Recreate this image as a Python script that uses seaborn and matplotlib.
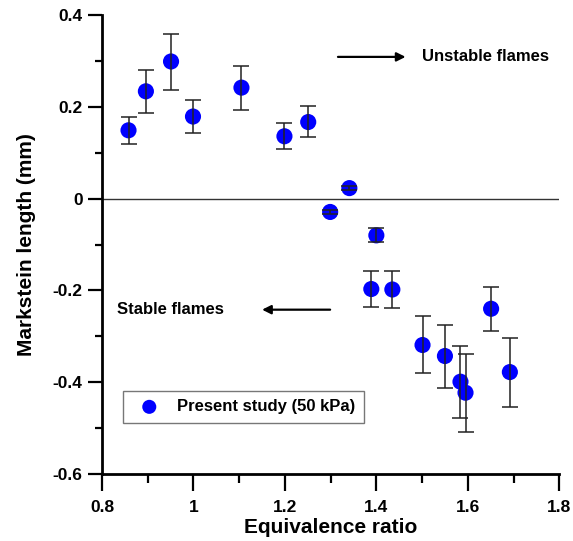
import matplotlib
matplotlib.use("Agg")
import matplotlib.pyplot as plt
import seaborn as sns
import numpy as np
import pandas as pd

# Equivalence ratio and Markstein length (mm)
phi = [0.858, 0.896, 0.951, 0.999, 1.105, 1.199, 1.251, 1.299, 1.341,
       1.400, 1.389, 1.435, 1.501, 1.550, 1.584, 1.595, 1.651, 1.692]
lb = [0.149, 0.234, 0.299, 0.179, 0.242, 0.136, 0.167, -0.029, 0.023,
      -0.080, -0.197, -0.198, -0.319, -0.343, -0.399, -0.423, -0.240, -0.378]
err_top = [0.178, 0.281, 0.358, 0.215, 0.289, 0.164, 0.201, -0.024, 0.028,
           -0.063, -0.158, -0.158, -0.255, -0.276, -0.321, -0.338, -0.192, -0.304]
err_bot = [0.119, 0.187, 0.237, 0.143, 0.193, 0.109, 0.135, -0.034, 0.018,
           -0.095, -0.236, -0.239, -0.381, -0.413, -0.479, -0.508, -0.288, -0.454]

df = pd.DataFrame({"phi": phi, "lb": lb})

sns.set_style("ticks")
plt.rcParams["font.family"] = ["Liberation Sans", "DejaVu Sans"]
plt.rcParams["font.weight"] = "bold"
plt.rcParams["text.color"] = "black"
plt.rcParams["axes.labelcolor"] = "black"
plt.rcParams["xtick.color"] = "black"
plt.rcParams["ytick.color"] = "black"

fig = plt.figure(figsize=(5.73, 5.41), dpi=100)
ax = fig.add_axes([0.178, 0.124, 0.798, 0.848])

ax.axhline(0, color="#333333", lw=1.0, zorder=1)

sns.scatterplot(
    data=df, x="phi", y="lb",
    color="#0000ff", s=135, edgecolor="none",
    label="Present study (50 kPa)", ax=ax, zorder=2
)

lo = np.array(lb) - np.array(err_bot)
hi = np.array(err_top) - np.array(lb)
ax.errorbar(
    phi, lb, yerr=[lo, hi], fmt="none",
    ecolor="#222222", elinewidth=1.1, capsize=5.5, capthick=1.1, zorder=3
)

ax.set_xlim(0.8, 1.8)
ax.set_ylim(-0.6, 0.4)
ax.set_xticks(np.arange(0.8, 1.81, 0.2))
ax.set_xticklabels(["0.8", "1", "1.2", "1.4", "1.6", "1.8"])
ax.set_xticks(np.arange(0.9, 1.8, 0.2), minor=True)
ax.set_yticks(np.arange(-0.6, 0.41, 0.2))
ax.set_yticklabels(["-0.6", "-0.4", "-0.2", "0", "0.2", "0.4"])
ax.set_yticks(np.arange(-0.5, 0.4, 0.2), minor=True)

ax.tick_params(axis="x", which="major", length=12, width=1.6,
               labelsize=12.5, pad=7, color="black")
ax.tick_params(axis="x", which="minor", length=6.5, width=1.6, color="black")
ax.tick_params(axis="y", which="major", length=10, width=1.6,
               labelsize=12.5, pad=4, color="black")
ax.tick_params(axis="y", which="minor", length=5, width=1.6, color="black")
for lab in ax.get_xticklabels() + ax.get_yticklabels():
    lab.set_fontweight("bold")

sns.despine(ax=ax)
for side in ["left", "bottom"]:
    ax.spines[side].set_linewidth(2)
    ax.spines[side].set_color("black")

ax.set_xlabel("Equivalence ratio", fontsize=15, fontweight="bold", labelpad=2)
ax.set_ylabel("Markstein length (mm)", fontsize=15, fontweight="bold", labelpad=12)

ax.annotate("", xy=(1.47, 0.309), xytext=(1.31, 0.309),
            arrowprops=dict(arrowstyle="-|>", color="black", lw=1.6,
                            mutation_scale=13))
ax.text(1.50, 0.309, "Unstable flames", fontsize=12, fontweight="bold",
        ha="left", va="center")

ax.annotate("", xy=(1.144, -0.242), xytext=(1.305, -0.242),
            arrowprops=dict(arrowstyle="-|>", color="black", lw=1.6,
                            mutation_scale=13))
ax.text(0.833, -0.242, "Stable flames", fontsize=12, fontweight="bold",
        ha="left", va="center")

leg = ax.legend(loc="upper left", bbox_to_anchor=(0.046, 0.181),
                fontsize=12, frameon=True, fancybox=False,
                borderpad=0.5, borderaxespad=0, handlelength=2.15,
                handletextpad=0.6, markerscale=0.87)
leg.get_frame().set_edgecolor("#555555")
leg.get_frame().set_linewidth(1.0)
for t in leg.get_texts():
    t.set_fontweight("bold")

plt.savefig("out.png", dpi=100)
plt.close()
